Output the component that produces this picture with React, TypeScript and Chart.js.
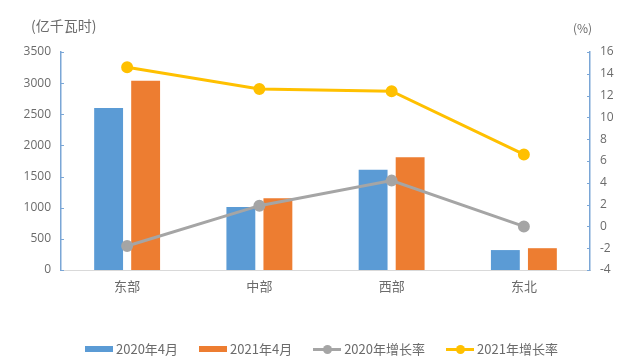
import React, { useEffect, useRef } from "react";
import { Chart, registerables } from "chart.js";

Chart.register(...registerables);

const categories = ["东部", "中部", "西部", "东北"];
const values2020 = [2600, 1010, 1610, 320];
const values2021 = [3040, 1150, 1810, 350];
const growth2020 = [-1.8, 1.9, 4.2, 0.0];
const growth2021 = [14.6, 12.6, 12.4, 6.6];
const leftTicks = { min: 0, max: 3500, step: 500 };
const rightTicks = { min: -4, max: 16, step: 2 };
const seriesNames = ["2020年4月", "2021年4月", "2020年增长率", "2021年增长率"];

const BLUE = "#5b9bd5";
const ORANGE = "#ed7d31";
const GRAY = "#a5a5a5";
const YELLOW = "#ffc000";
const AXIS_BLUE = "#7aa6d6";
const TEXT = "#6b6b6b";

const innerTicks = {
  id: "innerTicks",
  afterDatasetsDraw(chart: any) {
    const ctx = chart.ctx;
    ctx.save();
    ctx.strokeStyle = AXIS_BLUE;
    ctx.lineWidth = 1;
    const y = chart.scales.y;
    y.ticks.forEach((t: any) => {
      const p = Math.round(y.getPixelForValue(t.value)) + 0.5;
      ctx.beginPath();
      ctx.moveTo(y.right, p);
      ctx.lineTo(y.right + 3, p);
      ctx.stroke();
    });
    const y1 = chart.scales.y1;
    y1.ticks.forEach((t: any) => {
      const p = Math.round(y1.getPixelForValue(t.value)) + 0.5;
      ctx.beginPath();
      ctx.moveTo(y1.left, p);
      ctx.lineTo(y1.left - 3, p);
      ctx.stroke();
    });
    ctx.restore();
  },
};

export default function App() {
  const ref = useRef<HTMLCanvasElement | null>(null);

  useEffect(() => {
    if (!ref.current) return;
    const chart = new Chart(ref.current, {
      type: "bar",
      data: {
        labels: categories,
        datasets: [
          {
            type: "line",
            label: seriesNames[2],
            data: growth2020,
            yAxisID: "y1",
            borderColor: GRAY,
            backgroundColor: GRAY,
            borderWidth: 3,
            pointRadius: 4.5,
            pointBackgroundColor: GRAY,
            pointBorderColor: GRAY,
            order: 0,
          } as any,
          {
            type: "line",
            label: seriesNames[3],
            data: growth2021,
            yAxisID: "y1",
            borderColor: YELLOW,
            backgroundColor: YELLOW,
            borderWidth: 3,
            pointRadius: 4.5,
            pointBackgroundColor: YELLOW,
            pointBorderColor: YELLOW,
            order: 0,
          } as any,
          {
            type: "bar",
            label: seriesNames[0],
            data: values2020,
            yAxisID: "y",
            backgroundColor: BLUE,
            categoryPercentage: 0.56,
            barPercentage: 0.78,
            order: 1,
          },
          {
            type: "bar",
            label: seriesNames[1],
            data: values2021,
            yAxisID: "y",
            backgroundColor: ORANGE,
            categoryPercentage: 0.56,
            barPercentage: 0.78,
            order: 1,
          },
        ],
      },
      options: {
        animation: false,
        responsive: false,
        maintainAspectRatio: false,
        layout: { padding: { top: 52, bottom: 0, left: 0, right: 0 } },
        plugins: {
          legend: { display: false },
          tooltip: { enabled: false },
        },
        scales: {
          x: {
            grid: { display: false, drawTicks: false },
            border: { color: "#d9d9d9", width: 1 },
            ticks: {
              color: TEXT,
              font: { size: 13, family: "'Noto Sans CJK SC', sans-serif" },
              padding: 8,
            },
            afterFit(s: any) {
              s.height = 92;
            },
          },
          y: {
            position: "left",
            min: leftTicks.min,
            max: leftTicks.max,
            grid: { display: false, drawTicks: false },
            border: { color: AXIS_BLUE, width: 1.5 },
            ticks: {
              stepSize: leftTicks.step,
              color: TEXT,
              padding: 10,
              font: { size: 12, family: "'Open Sans', 'Noto Sans', sans-serif" },
              callback: (v: any) => String(v),
            },
            afterFit(s: any) {
              s.width = 61;
            },
          },
          y1: {
            position: "right",
            min: rightTicks.min,
            max: rightTicks.max,
            grid: { display: false, drawTicks: false },
            border: { color: AXIS_BLUE, width: 1.5 },
            ticks: {
              stepSize: rightTicks.step,
              color: TEXT,
              padding: 10,
              font: { size: 12, family: "'Open Sans', 'Noto Sans', sans-serif" },
              callback: (v: any) => String(v),
            },
            afterFit(s: any) {
              s.width = 54;
            },
          },
        },
      },
      plugins: [innerTicks],
    });
    return () => chart.destroy();
  }, []);

  const legendItems = [
    { name: seriesNames[0], color: BLUE, kind: "bar" },
    { name: seriesNames[1], color: ORANGE, kind: "bar" },
    { name: seriesNames[2], color: GRAY, kind: "line" },
    { name: seriesNames[3], color: YELLOW, kind: "line" },
  ];

  return (
    <div
      style={{
        position: "absolute",
        left: 0,
        top: 0,
        width: 644,
        height: 362,
        background: "#fff",
        fontFamily: "'Noto Sans CJK SC', sans-serif",
      }}
    >
      <canvas ref={ref} width={644} height={362} style={{ display: "block" }} />
      <div
        style={{
          position: "absolute",
          left: 31,
          top: 14,
          fontSize: 14,
          color: TEXT,
          lineHeight: "22px",
        }}
      >
        (亿千瓦时)
      </div>
      <div
        style={{
          position: "absolute",
          left: 573,
          top: 19,
          fontSize: 12,
          color: TEXT,
          lineHeight: "18px",
        }}
      >
        (%)
      </div>
      <div
        style={{
          position: "absolute",
          left: 85,
          top: 340,
          display: "flex",
          alignItems: "center",
          gap: 21,
          fontSize: 13,
          color: TEXT,
          lineHeight: "18px",
        }}
      >
        {legendItems.map((it) => (
          <div key={it.name} style={{ display: "flex", alignItems: "center" }}>
            {it.kind === "bar" ? (
              <div style={{ width: 28, height: 6, background: it.color, marginRight: 3 }} />
            ) : (
              <div style={{ position: "relative", width: 28, height: 9, marginRight: 3 }}>
                <div
                  style={{
                    position: "absolute",
                    left: 0,
                    top: 3,
                    width: 28,
                    height: 3,
                    background: it.color,
                  }}
                />
                <div
                  style={{
                    position: "absolute",
                    left: 9.5,
                    top: 0,
                    width: 9,
                    height: 9,
                    borderRadius: "50%",
                    background: it.color,
                  }}
                />
              </div>
            )}
            <span>{it.name}</span>
          </div>
        ))}
      </div>
    </div>
  );
}
